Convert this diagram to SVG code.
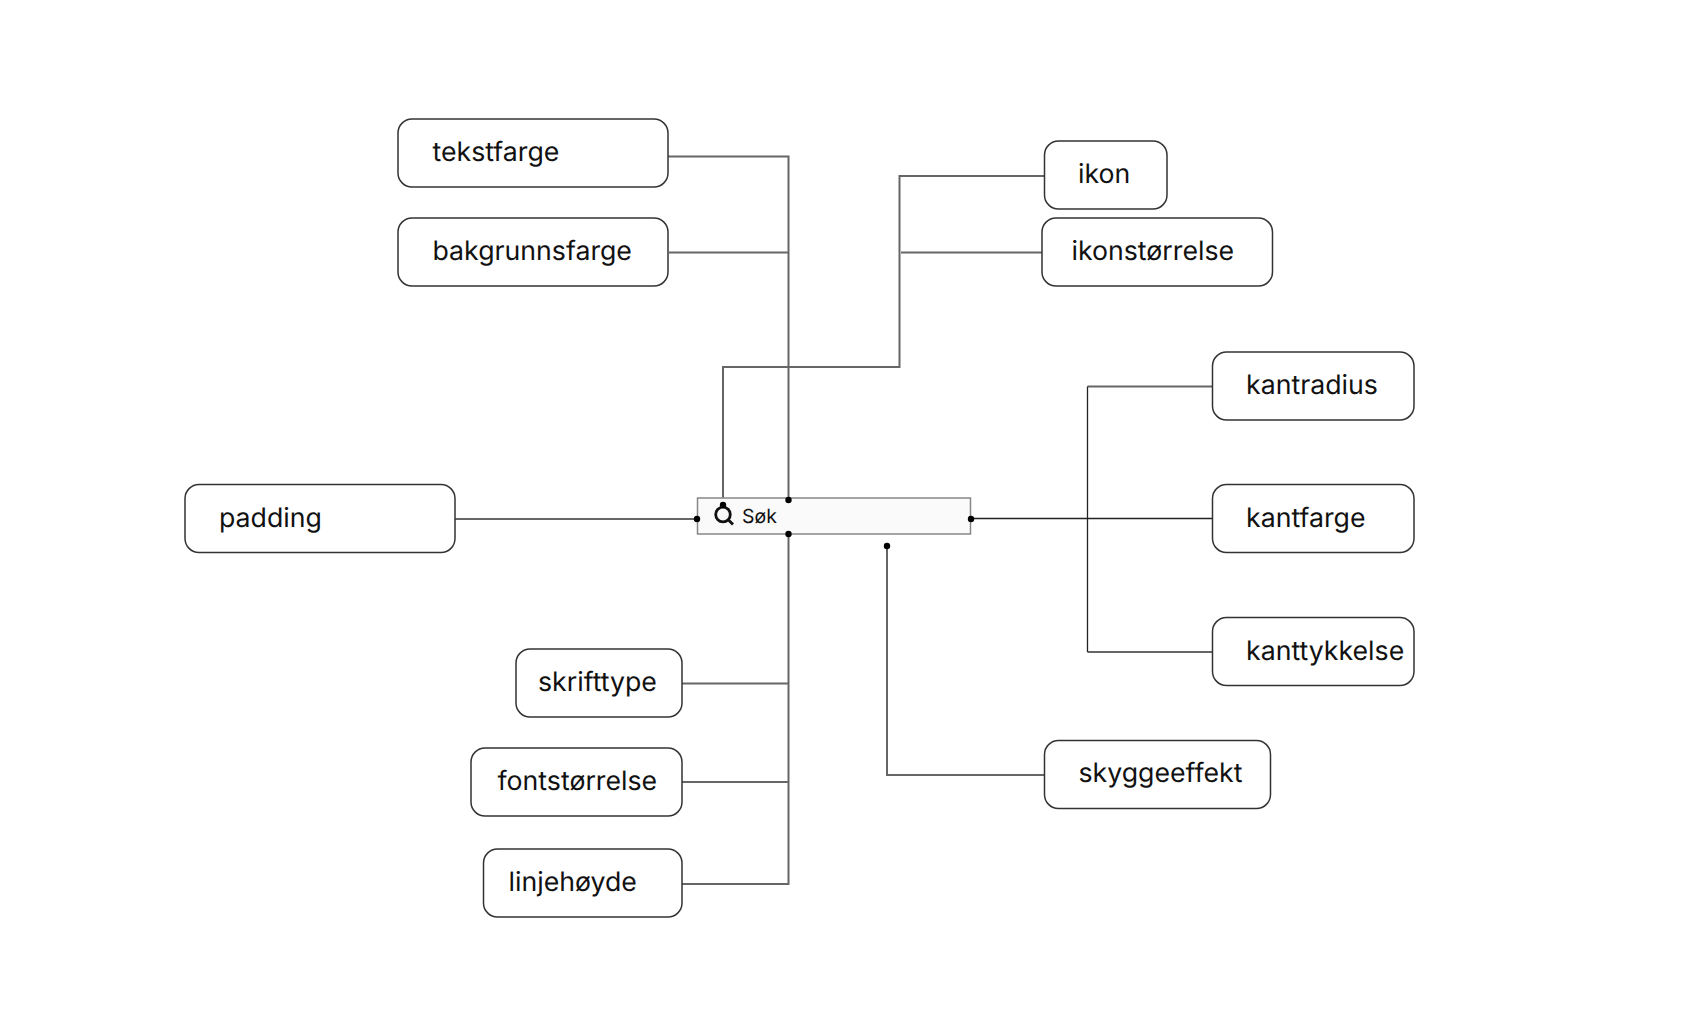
<svg xmlns="http://www.w3.org/2000/svg" width="1700" height="1035" viewBox="0 0 1700 1035">
<style>
text{text-rendering:geometricPrecision}
.n{fill:#fff;stroke:#333;stroke-width:1.5}
.t{font-family:Inter,"Liberation Sans",sans-serif;font-size:26.7px;fill:#111}
.c{fill:none;stroke:#666;stroke-width:2}
.e{fill:none;stroke:#222;stroke-width:1.3}
.d{fill:#000}
</style>
<rect width="1700" height="1035" fill="#fff"/>
<g id="connectors">
<path class="c" d="M668 156.500H788.500V500M669 252.500H788.500M1045 176H899.500V367H723V505M901 252.500H1042M455 519H697M1212 386.500H1087.500M1087.500 652H1212M788.500 534V884H682M682 683.500H788.500M682 782H788.500M887 547V775H1045"/>
<path class="e" d="M971 518.500H1212M1087.500 386.500V652"/>
</g>
<g id="search"><rect x="697.500" y="498" width="273" height="36" fill="#fafafa" stroke="#888" stroke-width="1.500"/>
<circle cx="723" cy="514.500" r="7.300" fill="none" stroke="#111" stroke-width="2.800"/><path d="M728.500 520l4.500 4.500" stroke="#111" stroke-width="2.800"/>
<text x="742" y="523" font-family="Inter,'Liberation Sans',sans-serif" font-size="19.500" fill="#111">Søk</text></g>
<g id="dots"><circle class="d" cx="788.500" cy="500" r="3.200"/><circle class="d" cx="788.500" cy="534" r="3.200"/><circle class="d" cx="697" cy="519" r="3.200"/><circle class="d" cx="971" cy="519" r="3.200"/><circle class="d" cx="723" cy="505" r="3.200"/><circle class="d" cx="887" cy="546" r="3.200"/></g>
<g id="n1"><rect class="n" x="398" y="119" width="270" height="68" rx="14"/><text class="t" x="432.500" y="161">tekstfarge</text></g>
<g id="n2"><rect class="n" x="398" y="218" width="270" height="68" rx="14"/><text class="t" x="432.500" y="259.500">bakgrunnsfarge</text></g>
<g id="n3"><rect class="n" x="1044.500" y="141" width="122.500" height="68" rx="14"/><text class="t" x="1078" y="183">ikon</text></g>
<g id="n4"><rect class="n" x="1042" y="218" width="230.500" height="68" rx="14"/><text class="t" x="1071.500" y="259.500">ikonstørrelse</text></g>
<g id="n5"><rect class="n" x="1212.500" y="352" width="201.500" height="68" rx="14"/><text class="t" x="1246" y="393.500">kantradius</text></g>
<g id="n6"><rect class="n" x="1212.500" y="484.500" width="201.500" height="68" rx="14"/><text class="t" x="1246" y="526.500">kantfarge</text></g>
<g id="n7"><rect class="n" x="1212.500" y="617.500" width="201.500" height="68" rx="14"/><text class="t" x="1246" y="659.500">kanttykkelse</text></g>
<g id="n8"><rect class="n" x="185" y="484.500" width="270" height="68" rx="14"/><text class="t" x="219" y="527">padding</text></g>
<g id="n9"><rect class="n" x="516" y="649" width="166" height="68" rx="14"/><text class="t" x="538" y="690.500">skrifttype</text></g>
<g id="n10"><rect class="n" x="471" y="748" width="211" height="68" rx="14"/><text class="t" x="497.500" y="789.500">fontstørrelse</text></g>
<g id="n11"><rect class="n" x="483.500" y="849" width="198.500" height="68" rx="14"/><text class="t" x="508.500" y="891">linjehøyde</text></g>
<g id="n12"><rect class="n" x="1044.500" y="740.500" width="226" height="68" rx="14"/><text class="t" x="1078.500" y="782">skyggeeffekt</text></g>
</svg>
